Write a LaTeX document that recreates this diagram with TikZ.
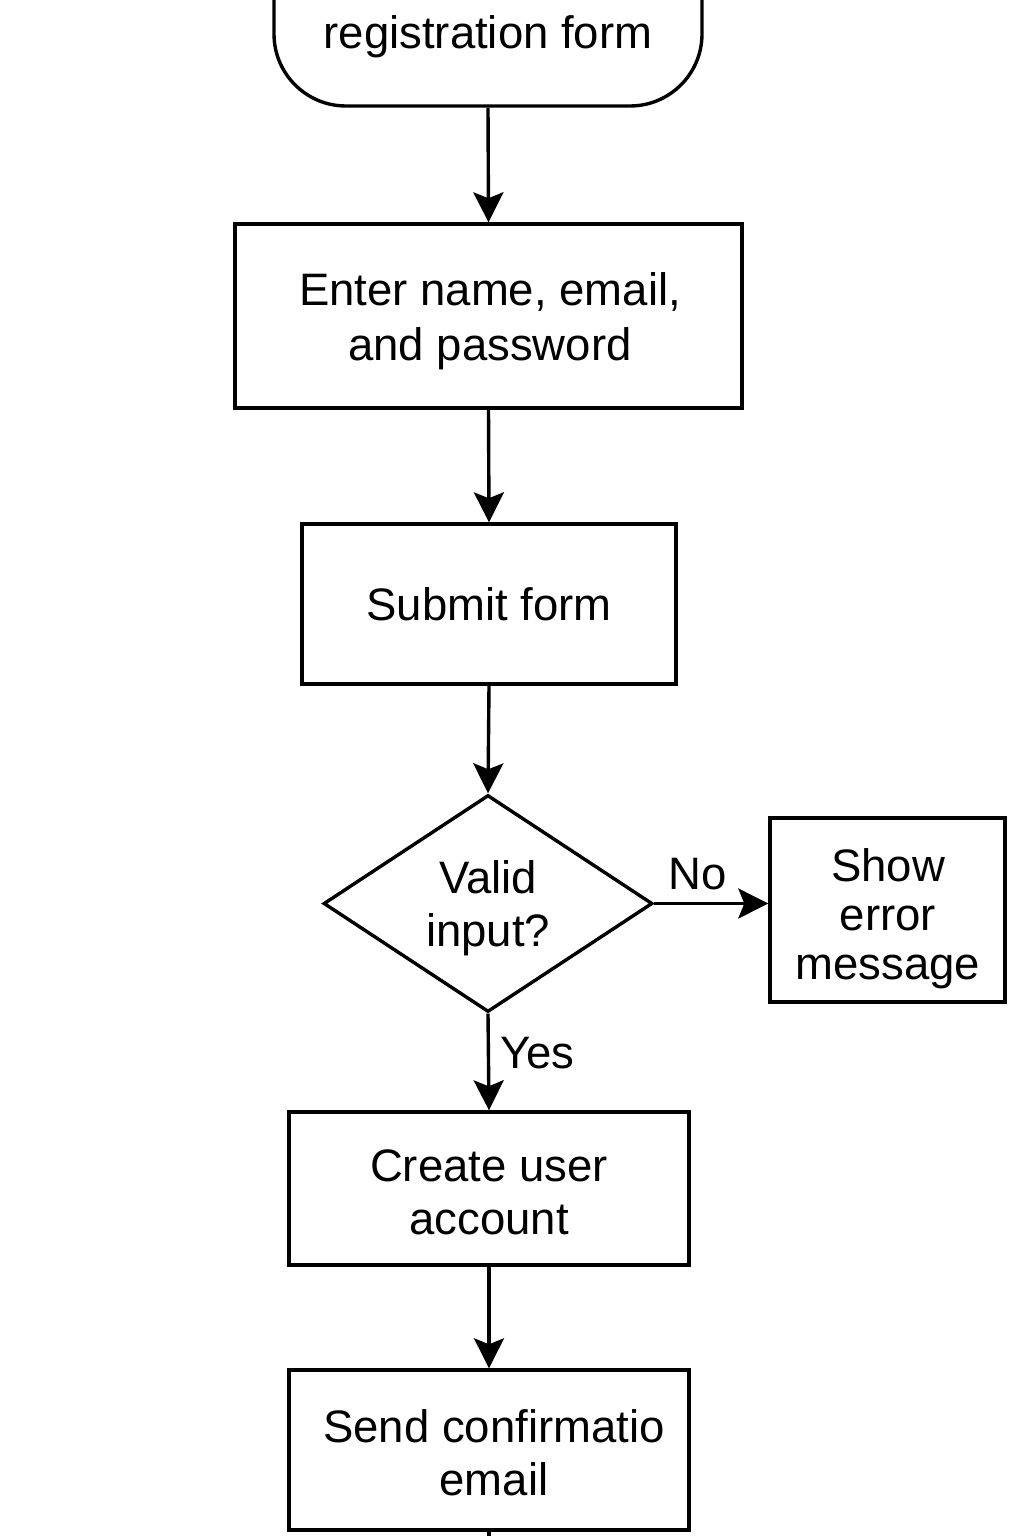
\documentclass[tikz,border=0pt]{standalone}
\usepackage{fontspec}
\setmainfont{Liberation Sans}
\usetikzlibrary{shapes.geometric,arrows.meta}
\begin{document}
\begin{tikzpicture}[x=1pt,y=-1pt,
  every node/.style={font=\fontsize{45.5}{53}\selectfont, align=center, inner sep=0pt},
  boxnode/.style={draw, line width=3.4pt, rectangle},
  arr/.style={line width=3.4pt, -{Stealth[length=30pt,width=30pt,inset=6pt]}},
  lbl/.style={font=\fontsize{45.5}{53}\selectfont}]
\clip (0,0) rectangle (1024,1536);
\fill[white] (0,0) rectangle (1024,1536);
% start terminal (cut off at top)
\node[draw, line width=3.4pt, rounded corners=72pt, minimum width=428pt, minimum height=200pt] (start) at (488,6) {};
\node (starttext) at (488,37) {registration form};
\node[boxnode, minimum width=507pt, minimum height=184pt] (enter) at (488.5,316) {};
\node[font=\fontsize{45.5}{55}\selectfont] (entertext) at (490,321) {Enter name, email,\\and password};
\node[boxnode, minimum width=374pt, minimum height=160pt] (submit) at (489,604) {Submit form};
\node[draw, line width=3.4pt, diamond, aspect=1.516, minimum width=329pt, minimum height=217pt] (valid) at (488,903.5) {};
\node (validtext) at (488,908) {Valid\\input?};
\node[boxnode, minimum width=235pt, minimum height=184pt] (error) at (887.5,910) {};
\node[font=\fontsize{45.5}{49}\selectfont] (errortext) at (888,919) {Show\\error\\message};
\node[boxnode, minimum width=400pt, minimum height=153pt] (create) at (489,1188.5) {};
\node (createtext) at (489,1192) {Create user\\account};
\node[boxnode, minimum width=400pt, minimum height=160pt] (send) at (489,1450) {};
\node (sendtext) at (494,1453) {Send confirmatio\\email};
\coordinate (out) at (489,1580);
\draw[arr] (start.south) -- (enter.north);
\draw[arr] (enter.south) -- (submit.north);
\draw[arr] (submit.south) -- (valid.north);
\draw[arr] (valid.east) -- (valid.east -| error.west) node[lbl, pos=0.38, above=12pt] {No};
\draw[arr] (valid.south) -- (create.north) node[lbl, pos=0.41, right=10pt] {Yes};
\draw[arr] (create.south) -- (send.north);
\draw[line width=3.4pt] (send.south) -- (out);
\end{tikzpicture}
\end{document}
